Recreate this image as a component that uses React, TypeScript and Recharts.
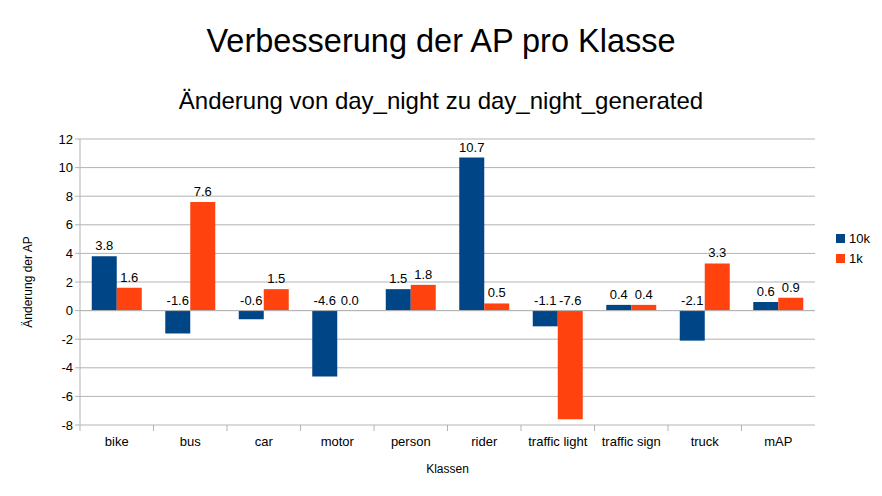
import {
  BarChart,
  Bar,
  XAxis,
  YAxis,
  CartesianGrid,
  LabelList,
  ReferenceLine,
} from 'recharts';

const classes = [
  'bike', 'bus', 'car', 'motor', 'person',
  'rider', 'traffic light', 'traffic sign', 'truck', 'mAP',
];
const delta10k = [3.8, -1.6, -0.6, -4.6, 1.5, 10.7, -1.1, 0.4, -2.1, 0.6];
const delta1k = [1.6, 7.6, 1.5, 0.0, 1.8, 0.5, -7.6, 0.4, 3.3, 0.9];
const yTicks = [-8, -6, -4, -2, 0, 2, 4, 6, 8, 10, 12];
const seriesNames = ['10k', '1k'];

const BLUE = '#004586';
const ORANGE = '#ff420e';
const GRID = '#b3b3b3';
const FONT = '"Liberation Sans", Arial, sans-serif';

const data = classes.map((name, i) => ({
  name,
  k10: delta10k[i],
  k1: delta1k[i],
}));

const PLOT_LEFT = 80;
const PLOT_RIGHT = 815;
const BAND = (PLOT_RIGHT - PLOT_LEFT) / classes.length;

// zero-height bars get no label otherwise
const tinyForZero = (v: any) => (Number(v) === 0 ? 0.01 : 0);

function ValueLabel(props: any) {
  const { x, y, width, height, value } = props;
  const top = Math.min(y, y + height);
  return (
    <text
      x={x + width / 2}
      y={top - 6}
      textAnchor="middle"
      fontSize={13}
      fontFamily={FONT}
      fill="#000"
    >
      {Number(value).toFixed(1)}
    </text>
  );
}

function CategoryTick(props: any) {
  const { x, y, payload } = props;
  const left = x - BAND / 2;
  return (
    <g>
      <line x1={left} x2={left} y1={y - 8} y2={y - 2} stroke={GRID} />
      <text
        x={x}
        y={y + 13}
        textAnchor="middle"
        fontSize={13}
        fontFamily={FONT}
        fill="#000"
      >
        {payload.value}
      </text>
    </g>
  );
}

export default function App() {
  const colors = [BLUE, ORANGE];
  return (
    <div
      style={{
        position: 'absolute',
        left: 0,
        top: 0,
        width: 882,
        height: 496,
        background: '#fff',
        fontFamily: FONT,
      }}
    >
      <div style={{ position: 'absolute', top: 23, width: 882, textAlign: 'center', fontSize: 32.5 }}>
        Verbesserung der AP pro Klasse
      </div>
      <div style={{ position: 'absolute', top: 87, width: 882, textAlign: 'center', fontSize: 24 }}>
        Änderung von day_night zu day_night_generated
      </div>
      <div
        style={{
          position: 'absolute',
          left: 28,
          top: 282,
          fontSize: 12,
          transform: 'translate(-50%, -50%) rotate(-90deg)',
          whiteSpace: 'nowrap',
        }}
      >
        Änderung der AP
      </div>
      <div style={{ position: 'absolute', top: 462, left: PLOT_LEFT, width: PLOT_RIGHT - PLOT_LEFT, textAlign: 'center', fontSize: 12 }}>
        Klassen
      </div>
      <div style={{ position: 'absolute', left: 836, top: 228, fontSize: 13, zIndex: 2 }}>
        {seriesNames.map((label, i) => (
          <div key={label} style={{ display: 'flex', alignItems: 'center', height: 20 }}>
            <span style={{ width: 9, height: 9, background: colors[i], marginRight: 4 }} />
            <span>{label}</span>
          </div>
        ))}
      </div>
      <BarChart
        width={882}
        height={496}
        data={data}
        margin={{ top: 139, right: 67, bottom: 0, left: 0 }}
        barCategoryGap="16%"
        barGap={0}
      >
        <CartesianGrid vertical={false} stroke={GRID} />
        <XAxis
          dataKey="name"
          height={71}
          axisLine={false}
          tickLine={false}
          tick={<CategoryTick />}
          interval={0}
        />
        <YAxis
          width={80}
          domain={[-8, 12]}
          ticks={yTicks}
          interval={0}
          stroke={GRID}
          tickSize={5}
          tick={{ fill: '#000', fontSize: 13, fontFamily: FONT }}
        />
        <YAxis
          yAxisId="right"
          orientation="right"
          width={0}
          domain={[-8, 12]}
          tick={false}
          tickLine={false}
          stroke={GRID}
        />
        <ReferenceLine y={0} stroke={GRID} />
        <Bar dataKey="k10" name={seriesNames[0]} fill={BLUE} isAnimationActive={false}>
          <LabelList dataKey="k10" content={<ValueLabel />} />
        </Bar>
        <Bar
          dataKey="k1"
          name={seriesNames[1]}
          fill={ORANGE}
          minPointSize={tinyForZero}
          isAnimationActive={false}
        >
          <LabelList dataKey="k1" content={<ValueLabel />} />
        </Bar>
      </BarChart>
    </div>
  );
}
